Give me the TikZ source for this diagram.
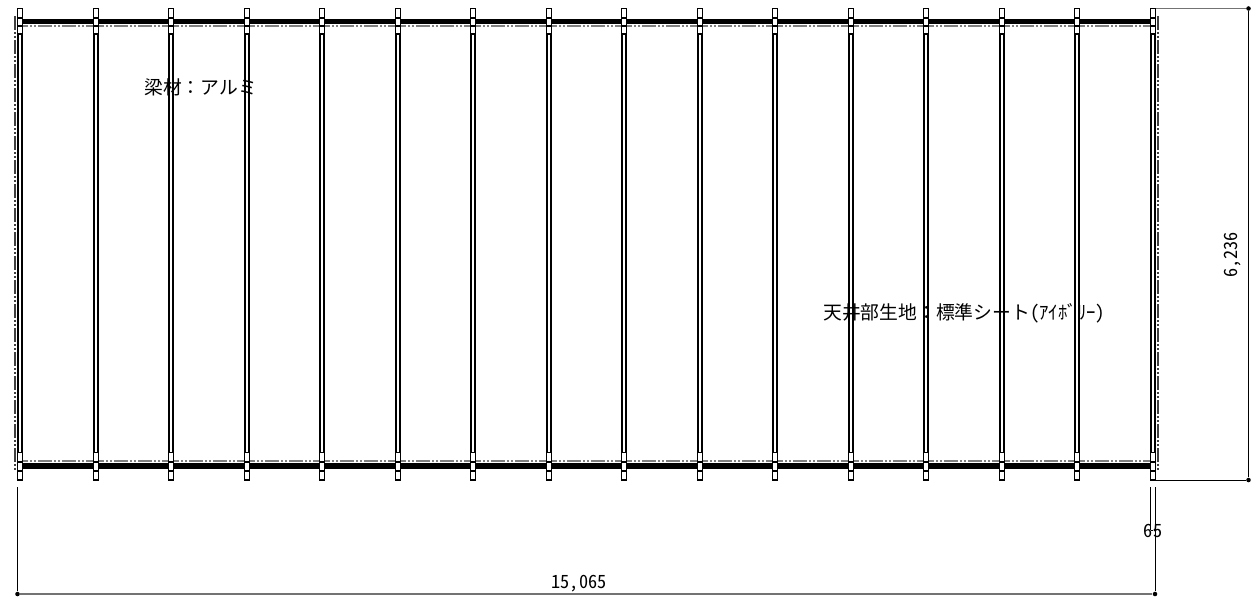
\documentclass[tikz,border=0pt]{standalone}
\usepackage{fontspec}
\newfontfamily\cjk[RawFeature=+hwid]{Noto Sans CJK JP}
\newfontfamily\cjkfull{Noto Sans CJK JP}
\tikzset{
  px/.style={x=0.75pt,y=-0.75pt},
  post/.style={draw=black,line width=1.5pt},
  postcap/.style={draw=black,line width=1.3pt,fill=white},
  divider/.style={draw=black,line width=1pt},
  beam/.style={draw=black,line width=4.1pt},
  centre/.style={draw=black!50,line width=1.3pt},
  centredash/.style={draw=white,line width=1.4pt,dash pattern=on 1.5pt off 1.5pt on 1.5pt off 1.5pt on 1.5pt off 10.5pt},
  edgedash/.style={draw=black!75,line width=0.8pt,dash pattern=on 10.5pt off 1.5pt on 1.5pt off 1.5pt on 1.5pt off 1.5pt},
  dimline/.style={draw=black,line width=0.75pt},
  dimgrey/.style={draw=black!55,line width=1pt},
  dimdot/.style={circle,fill=black,inner sep=0pt,minimum size=3.4pt},
  label/.style={font=\cjk\fontsize{14.1pt}{14.1pt}\selectfont,inner sep=0pt,text=black},
  dimlabel/.style={font=\cjk\fontsize{13.7pt}{13.7pt}\selectfont,inner sep=0pt,text=black}
}
\begin{document}
\begin{tikzpicture}[px]
\useasboundingbox (0,0) rectangle (1254,597);
\fill[white] (0,0) rectangle (1254,597);
% centre lines and beams
\draw[centre] (23,26) -- (1150,26);
\draw[centre] (23,461) -- (1150,461);
\foreach \i in {0,...,14}{
  \pgfmathsetmacro{\xa}{28+75.53*\i}
  \draw[centredash] (\xa,26) -- +(66,0);
  \draw[centredash] (\xa,461) -- +(66,0);
}
\draw[beam] (20,21.4) -- (1153,21.4);
\draw[beam] (20,465.8) -- (1153,465.8);
% outer dash-dot
\draw[edgedash] (15,16) -- (15,472);
\draw[edgedash] (1158,16) -- (1158,472);
% posts
\foreach \i in {0,...,15}{
  \pgfmathsetmacro{\xc}{round(20+75.53*\i)}
  \draw[post] (\xc-2,34) -- (\xc-2,452.5) (\xc+2,34) -- (\xc+2,452.5);
  \draw[postcap] (\xc-2.6,8.5) rectangle (\xc+2.6,34);
  \draw[postcap] (\xc-2.6,452.5) rectangle (\xc+2.6,480);
  \draw[divider] (\xc-2.6,18) -- (\xc+2.6,18) (\xc-2.6,26) -- (\xc+2.6,26);
  \draw[divider] (\xc-2.6,462) -- (\xc+2.6,462) (\xc-2.6,471) -- (\xc+2.6,471);
}
% dimensions
\coordinate (tr) at (1156,8.5);
\node[dimdot] (dtop) at (1248.5,8.5) {};
\node[dimdot] (dbot) at (1248.5,480) {};
\coordinate (br) at (1156,480);
\draw[dimgrey] (tr) -- (dtop);
\draw[dimline] (dtop) -- (dbot);
\draw[dimline] (br) -- (dbot);
\coordinate (la) at (17.5,487);
\coordinate (ra) at (1155,487);
\coordinate (sa) at (1150.5,487);
\coordinate (sb) at (1150.5,530);
\node[dimdot] (dl) at (17.5,594) {};
\node[dimdot] (dr) at (1155,594) {};
\node[dimdot,minimum size=2.6pt] (dm) at (1155,530) {};
\draw[dimline] (la) -- (dl);
\draw[dimline] (ra) -- (dr);
\draw[dimline] (sa) -- (sb);
\draw[dimgrey] (dl) -- (dr);
\draw[dimline] (sb) -- (dm);
% labels
\node[label,anchor=west] (n1) at (144,87) {梁材{\cjkfull ：}アルミ};
\node[label,anchor=west] (n2) at (823,313) {天井部生地{\cjkfull ：}標準シート(ｱｲﾎﾞﾘｰ)};
\node[dimlabel] (d1) at (579,584) {15,065};
\node[dimlabel] (d2) at (1153,531) {65};
\node[dimlabel,rotate=90] (d3) at (1233,255) {6,236};
\end{tikzpicture}
\end{document}
